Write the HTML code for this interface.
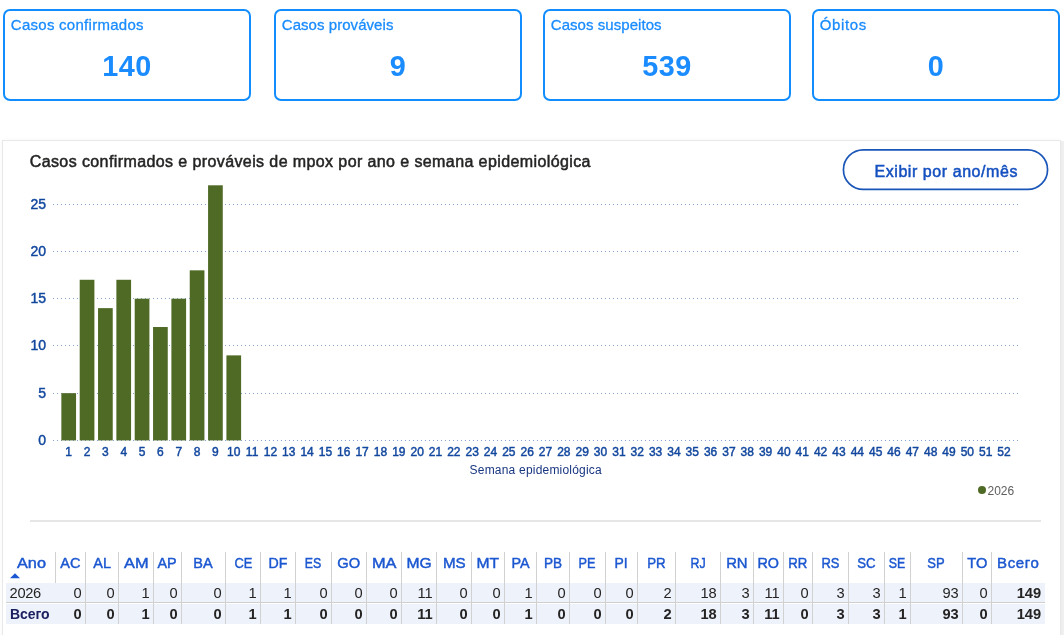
<!DOCTYPE html>
<html lang="pt-BR"><head><meta charset="utf-8"><title>Mpox</title>
<style>
html,body{margin:0;padding:0}
body{width:1064px;height:635px;overflow:hidden;background:#fff;position:relative;font-family:"Liberation Sans",sans-serif}
.a{position:absolute}
.t{position:absolute;white-space:nowrap;line-height:1}
.card{position:absolute;top:9px;width:244px;height:88px;border:2px solid #118dff;border-radius:7px;background:#fff}
.ct{font-size:15px;color:#1a8cff;left:5.8px;top:5.8px;-webkit-text-stroke:.3px #1a8cff}
.cv{font-size:28.8px;font-weight:bold;color:#1a8cff;left:0;width:244px;text-align:center;top:41.3px;letter-spacing:.5px}
.panel{position:absolute;left:2px;top:140px;width:1057px;height:520px;border:1px solid #e8e8e8;background:#fff;box-shadow:0 0 5px rgba(0,0,0,.035)}
.yl{font-size:14px;color:#12479e;text-align:right;width:30px;left:16px;-webkit-text-stroke:.45px #12479e}
.xl{font-size:12px;color:#12479e;text-align:center;width:20px;top:445.5px;-webkit-text-stroke:.45px #12479e}
.bar{position:absolute;background:#4e6a25}
.th{font-size:15px;color:#1b57d0;text-align:center;top:555px;-webkit-text-stroke:.45px #1b57d0}
.td{font-size:14.67px;color:#252423;text-align:right;top:586.3px}
.tb{font-size:14.67px;color:#252423;text-align:right;top:607.1px;font-weight:bold}
.vl{position:absolute;width:1px;background:#d1d1d1;top:552px;height:72px}
</style></head><body>
<div class="card" style="left:3px"><div class="t ct" style="letter-spacing:0.27px">Casos confirmados</div><div class="t cv">140</div></div>
<div class="card" style="left:274px"><div class="t ct" style="letter-spacing:0.05px">Casos prováveis</div><div class="t cv">9</div></div>
<div class="card" style="left:543px"><div class="t ct" style="letter-spacing:0.05px">Casos suspeitos</div><div class="t cv">539</div></div>
<div class="card" style="left:812px"><div class="t ct" style="letter-spacing:0.6px">Óbitos</div><div class="t cv">0</div></div>
<div class="a" style="left:1061px;top:141px;width:3px;height:500px;background:#f1f1f1"></div>
<div class="panel"></div>
<div class="t" id="title" style="left:29.7px;top:154px;font-size:16px;color:#252423;letter-spacing:.4px;-webkit-text-stroke:.5px #252423">Casos confirmados e prováveis de mpox por ano e semana epidemiológica</div>
<svg class="a" style="left:838px;top:145px" width="216" height="50" viewBox="838 145 216 50"><rect x="843.45" y="149.9" width="204.1" height="39.5" rx="19.75" fill="#fff" stroke="#1a55b8" stroke-width="1.7"/></svg>
<div class="t" id="btn" style="left:874.5px;top:164.2px;font-size:16px;color:#1450c0;letter-spacing:.56px;-webkit-text-stroke:.5px #1450c0">Exibir por ano/mês</div>
<svg class="a" style="left:0;top:0" width="1064" height="635" viewBox="0 0 1064 635">
<line x1="53" x2="1020" y1="440.5" y2="440.5" stroke="#86a3d6" stroke-width="1" stroke-dasharray="1 3" shape-rendering="crispEdges"/>
<line x1="53" x2="1020" y1="393.5" y2="393.5" stroke="#86a3d6" stroke-width="1" stroke-dasharray="1 3" shape-rendering="crispEdges"/>
<line x1="53" x2="1020" y1="345.5" y2="345.5" stroke="#86a3d6" stroke-width="1" stroke-dasharray="1 3" shape-rendering="crispEdges"/>
<line x1="53" x2="1020" y1="298.5" y2="298.5" stroke="#86a3d6" stroke-width="1" stroke-dasharray="1 3" shape-rendering="crispEdges"/>
<line x1="53" x2="1020" y1="251.5" y2="251.5" stroke="#86a3d6" stroke-width="1" stroke-dasharray="1 3" shape-rendering="crispEdges"/>
<line x1="53" x2="1020" y1="204.5" y2="204.5" stroke="#86a3d6" stroke-width="1" stroke-dasharray="1 3" shape-rendering="crispEdges"/>
<rect x="61.35" y="393.16" width="14.7" height="47.24" fill="#4e6a25"/>
<rect x="79.69" y="279.78" width="14.7" height="160.62" fill="#4e6a25"/>
<rect x="98.03" y="308.13" width="14.7" height="132.27" fill="#4e6a25"/>
<rect x="116.37" y="279.78" width="14.7" height="160.62" fill="#4e6a25"/>
<rect x="134.71" y="298.68" width="14.7" height="141.72" fill="#4e6a25"/>
<rect x="153.05" y="327.02" width="14.7" height="113.38" fill="#4e6a25"/>
<rect x="171.39" y="298.68" width="14.7" height="141.72" fill="#4e6a25"/>
<rect x="189.73" y="270.34" width="14.7" height="170.06" fill="#4e6a25"/>
<rect x="208.07" y="185.30" width="14.7" height="255.10" fill="#4e6a25"/>
<rect x="226.41" y="355.37" width="14.7" height="85.03" fill="#4e6a25"/>
</svg>
<div class="t yl" style="top:432.7px">0</div>
<div class="t yl" style="top:385.5px">5</div>
<div class="t yl" style="top:338.2px">10</div>
<div class="t yl" style="top:291.0px">15</div>
<div class="t yl" style="top:243.7px">20</div>
<div class="t yl" style="top:196.5px">25</div>
<div class="t xl" style="left:58.70px">1</div>
<div class="t xl" style="left:77.04px">2</div>
<div class="t xl" style="left:95.38px">3</div>
<div class="t xl" style="left:113.72px">4</div>
<div class="t xl" style="left:132.06px">5</div>
<div class="t xl" style="left:150.40px">6</div>
<div class="t xl" style="left:168.74px">7</div>
<div class="t xl" style="left:187.08px">8</div>
<div class="t xl" style="left:205.42px">9</div>
<div class="t xl" style="left:223.76px">10</div>
<div class="t xl" style="left:242.10px">11</div>
<div class="t xl" style="left:260.44px">12</div>
<div class="t xl" style="left:278.78px">13</div>
<div class="t xl" style="left:297.12px">14</div>
<div class="t xl" style="left:315.46px">15</div>
<div class="t xl" style="left:333.80px">16</div>
<div class="t xl" style="left:352.14px">17</div>
<div class="t xl" style="left:370.48px">18</div>
<div class="t xl" style="left:388.82px">19</div>
<div class="t xl" style="left:407.16px">20</div>
<div class="t xl" style="left:425.50px">21</div>
<div class="t xl" style="left:443.84px">22</div>
<div class="t xl" style="left:462.18px">23</div>
<div class="t xl" style="left:480.52px">24</div>
<div class="t xl" style="left:498.86px">25</div>
<div class="t xl" style="left:517.20px">26</div>
<div class="t xl" style="left:535.54px">27</div>
<div class="t xl" style="left:553.88px">28</div>
<div class="t xl" style="left:572.22px">29</div>
<div class="t xl" style="left:590.56px">30</div>
<div class="t xl" style="left:608.90px">31</div>
<div class="t xl" style="left:627.24px">32</div>
<div class="t xl" style="left:645.58px">33</div>
<div class="t xl" style="left:663.92px">34</div>
<div class="t xl" style="left:682.26px">35</div>
<div class="t xl" style="left:700.60px">36</div>
<div class="t xl" style="left:718.94px">37</div>
<div class="t xl" style="left:737.28px">38</div>
<div class="t xl" style="left:755.62px">39</div>
<div class="t xl" style="left:773.96px">40</div>
<div class="t xl" style="left:792.30px">41</div>
<div class="t xl" style="left:810.64px">42</div>
<div class="t xl" style="left:828.98px">43</div>
<div class="t xl" style="left:847.32px">44</div>
<div class="t xl" style="left:865.66px">45</div>
<div class="t xl" style="left:884.00px">46</div>
<div class="t xl" style="left:902.34px">47</div>
<div class="t xl" style="left:920.68px">48</div>
<div class="t xl" style="left:939.02px">49</div>
<div class="t xl" style="left:957.36px">50</div>
<div class="t xl" style="left:975.70px">51</div>
<div class="t xl" style="left:994.04px">52</div>
<div class="t" id="axt" style="left:469.6px;top:463.8px;font-size:12px;color:#183680;letter-spacing:.2px">Semana epidemiológica</div>
<div class="a" style="left:978px;top:486px;width:8px;height:8px;border-radius:50%;background:#4e6a25"></div>
<div class="t" id="leg" style="left:987.5px;top:484.5px;font-size:12px;color:#605e5c">2026</div>
<div class="a" style="left:30px;top:520px;width:1011px;height:2px;background:#e6e6e6"></div>
<div class="a" style="left:6px;top:583px;width:1039px;height:19.5px;background:#eef2fb"></div>
<div class="a" style="left:6px;top:603.5px;width:1039px;height:20.5px;background:#eef2fb"></div>
<div class="a" style="left:6px;top:602.3px;width:1039px;height:1.2px;background:#d0cfce"></div>
<div class="vl" style="left:55.0px;height:31px"></div>
<div class="t th" style="left:17px"><span style="display:inline-block;transform-origin:0 50%;transform:scaleX(1.084)">Ano</span></div>
<div class="t td" style="left:9.6px;text-align:left;letter-spacing:-.35px">2026</div>
<div class="t tb" style="left:10px;text-align:left;color:#1a2060;font-size:14px;letter-spacing:-.1px">Всего</div>
<div class="vl" style="left:85.0px"></div>
<div class="t th" style="left:55.5px;width:30.0px"><span style="display:inline-block;transform:scaleX(0.965)">AC</span></div>
<div class="t td" style="left:55.5px;width:26.2px">0</div>
<div class="t tb" style="left:55.5px;width:26.2px">0</div>
<div class="vl" style="left:118.0px"></div>
<div class="t th" style="left:85.5px;width:33.0px"><span style="display:inline-block;transform:scaleX(0.967)">AL</span></div>
<div class="t td" style="left:85.5px;width:29.2px">0</div>
<div class="t tb" style="left:85.5px;width:29.2px">0</div>
<div class="vl" style="left:153.0px"></div>
<div class="t th" style="left:118.5px;width:35.0px"><span style="display:inline-block;transform:scaleX(1.09)">AM</span></div>
<div class="t td" style="left:118.5px;width:31.2px">1</div>
<div class="t tb" style="left:118.5px;width:31.2px">1</div>
<div class="vl" style="left:181.0px"></div>
<div class="t th" style="left:153.5px;width:28.0px"><span style="display:inline-block;transform:scaleX(0.958)">AP</span></div>
<div class="t td" style="left:153.5px;width:24.2px">0</div>
<div class="t tb" style="left:153.5px;width:24.2px">0</div>
<div class="vl" style="left:225.0px"></div>
<div class="t th" style="left:181.5px;width:44.0px"><span style="display:inline-block;transform:scaleX(0.968)">BA</span></div>
<div class="t td" style="left:181.5px;width:40.2px">0</div>
<div class="t tb" style="left:181.5px;width:40.2px">0</div>
<div class="vl" style="left:260.0px"></div>
<div class="t th" style="left:225.5px;width:35.0px"><span style="display:inline-block;transform:scaleX(0.858)">CE</span></div>
<div class="t td" style="left:225.5px;width:31.2px">1</div>
<div class="t tb" style="left:225.5px;width:31.2px">1</div>
<div class="vl" style="left:295.0px"></div>
<div class="t th" style="left:260.5px;width:35.0px"><span style="display:inline-block;transform:scaleX(0.945)">DF</span></div>
<div class="t td" style="left:260.5px;width:31.2px">1</div>
<div class="t tb" style="left:260.5px;width:31.2px">1</div>
<div class="vl" style="left:331.0px"></div>
<div class="t th" style="left:295.5px;width:36.0px"><span style="display:inline-block;transform:scaleX(0.824)">ES</span></div>
<div class="t td" style="left:295.5px;width:32.2px">0</div>
<div class="t tb" style="left:295.5px;width:32.2px">0</div>
<div class="vl" style="left:366.0px"></div>
<div class="t th" style="left:331.5px;width:35.0px"><span style="display:inline-block;transform:scaleX(0.981)">GO</span></div>
<div class="t td" style="left:331.5px;width:31.2px">0</div>
<div class="t tb" style="left:331.5px;width:31.2px">0</div>
<div class="vl" style="left:401.0px"></div>
<div class="t th" style="left:366.5px;width:35.0px"><span style="display:inline-block;transform:scaleX(1.09)">MA</span></div>
<div class="t td" style="left:366.5px;width:31.2px">0</div>
<div class="t tb" style="left:366.5px;width:31.2px">0</div>
<div class="vl" style="left:436.0px"></div>
<div class="t th" style="left:401.5px;width:35.0px"><span style="display:inline-block;transform:scaleX(1.042)">MG</span></div>
<div class="t td" style="left:401.5px;width:31.2px">11</div>
<div class="t tb" style="left:401.5px;width:31.2px">11</div>
<div class="vl" style="left:471.0px"></div>
<div class="t th" style="left:436.5px;width:35.0px"><span style="display:inline-block;transform:scaleX(1.01)">MS</span></div>
<div class="t td" style="left:436.5px;width:31.2px">0</div>
<div class="t tb" style="left:436.5px;width:31.2px">0</div>
<div class="vl" style="left:504.0px"></div>
<div class="t th" style="left:471.5px;width:33.0px"><span style="display:inline-block;transform:scaleX(1.044)">MT</span></div>
<div class="t td" style="left:471.5px;width:29.2px">0</div>
<div class="t tb" style="left:471.5px;width:29.2px">0</div>
<div class="vl" style="left:536.0px"></div>
<div class="t th" style="left:504.5px;width:32.0px"><span style="display:inline-block;transform:scaleX(0.958)">PA</span></div>
<div class="t td" style="left:504.5px;width:28.2px">1</div>
<div class="t tb" style="left:504.5px;width:28.2px">1</div>
<div class="vl" style="left:569.0px"></div>
<div class="t th" style="left:536.5px;width:33.0px"><span style="display:inline-block;transform:scaleX(0.901)">PB</span></div>
<div class="t td" style="left:536.5px;width:29.2px">0</div>
<div class="t tb" style="left:536.5px;width:29.2px">0</div>
<div class="vl" style="left:605.0px"></div>
<div class="t th" style="left:569.5px;width:36.0px"><span style="display:inline-block;transform:scaleX(0.847)">PE</span></div>
<div class="t td" style="left:569.5px;width:32.2px">0</div>
<div class="t tb" style="left:569.5px;width:32.2px">0</div>
<div class="vl" style="left:637.0px"></div>
<div class="t th" style="left:605.5px;width:32.0px"><span style="display:inline-block;transform:scaleX(0.927)">PI</span></div>
<div class="t td" style="left:605.5px;width:28.2px">0</div>
<div class="t tb" style="left:605.5px;width:28.2px">0</div>
<div class="vl" style="left:675.0px"></div>
<div class="t th" style="left:637.5px;width:38.0px"><span style="display:inline-block;transform:scaleX(0.884)">PR</span></div>
<div class="t td" style="left:637.5px;width:34.2px">2</div>
<div class="t tb" style="left:637.5px;width:34.2px">2</div>
<div class="vl" style="left:720.0px"></div>
<div class="t th" style="left:675.5px;width:45.0px"><span style="display:inline-block;transform:scaleX(0.828)">RJ</span></div>
<div class="t td" style="left:675.5px;width:41.2px">18</div>
<div class="t tb" style="left:675.5px;width:41.2px">18</div>
<div class="vl" style="left:753.0px"></div>
<div class="t th" style="left:720.5px;width:33.0px"><span style="display:inline-block;transform:scaleX(0.988)">RN</span></div>
<div class="t td" style="left:720.5px;width:29.2px">3</div>
<div class="t tb" style="left:720.5px;width:29.2px">3</div>
<div class="vl" style="left:783.0px"></div>
<div class="t th" style="left:753.5px;width:30.0px"><span style="display:inline-block;transform:scaleX(0.955)">RO</span></div>
<div class="t td" style="left:753.5px;width:26.2px">11</div>
<div class="t tb" style="left:753.5px;width:26.2px">11</div>
<div class="vl" style="left:812.0px"></div>
<div class="t th" style="left:783.5px;width:29.0px"><span style="display:inline-block;transform:scaleX(0.878)">RR</span></div>
<div class="t td" style="left:783.5px;width:25.2px">0</div>
<div class="t tb" style="left:783.5px;width:25.2px">0</div>
<div class="vl" style="left:848.0px"></div>
<div class="t th" style="left:812.5px;width:36.0px"><span style="display:inline-block;transform:scaleX(0.862)">RS</span></div>
<div class="t td" style="left:812.5px;width:32.2px">3</div>
<div class="t tb" style="left:812.5px;width:32.2px">3</div>
<div class="vl" style="left:884.0px"></div>
<div class="t th" style="left:848.5px;width:36.0px"><span style="display:inline-block;transform:scaleX(0.878)">SC</span></div>
<div class="t td" style="left:848.5px;width:32.2px">3</div>
<div class="t tb" style="left:848.5px;width:32.2px">3</div>
<div class="vl" style="left:910.0px"></div>
<div class="t th" style="left:884.5px;width:26.0px"><span style="display:inline-block;transform:scaleX(0.824)">SE</span></div>
<div class="t td" style="left:884.5px;width:22.2px">1</div>
<div class="t tb" style="left:884.5px;width:22.2px">1</div>
<div class="vl" style="left:962.0px"></div>
<div class="t th" style="left:910.5px;width:52.0px"><span style="display:inline-block;transform:scaleX(0.867)">SP</span></div>
<div class="t td" style="left:910.5px;width:48.2px">93</div>
<div class="t tb" style="left:910.5px;width:48.2px">93</div>
<div class="vl" style="left:991.0px"></div>
<div class="t th" style="left:962.5px;width:29.0px"><span style="display:inline-block;transform:scaleX(0.975)">TO</span></div>
<div class="t td" style="left:962.5px;width:25.2px">0</div>
<div class="t tb" style="left:962.5px;width:25.2px">0</div>
<div class="t th" style="left:991.5px;width:53.5px"><span style="letter-spacing:.6px">Всего</span></div>
<div class="t td" style="left:991.5px;width:49.7px;font-weight:bold">149</div>
<div class="t tb" style="left:991.5px;width:49.7px">149</div>
<svg class="a" style="left:10px;top:573px" width="11" height="6" viewBox="0 0 11 6"><polygon points="0,5.2 10,5.2 5,0.3" fill="#1b57d0"/></svg>
</body></html>
